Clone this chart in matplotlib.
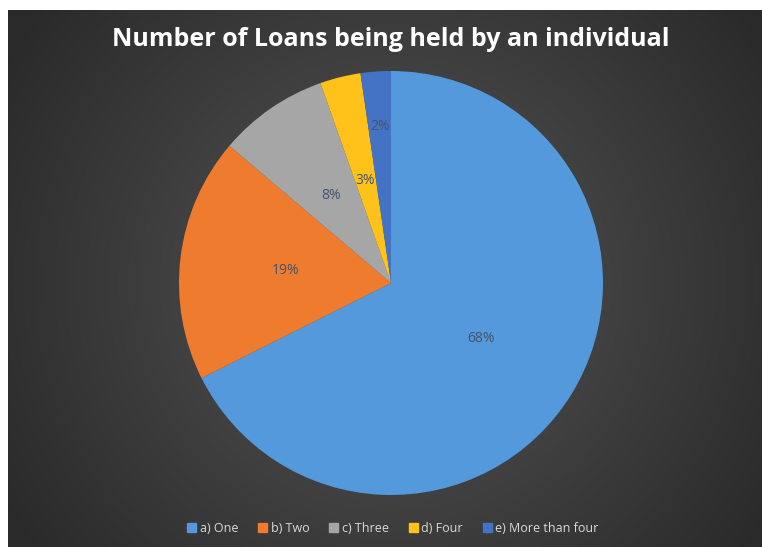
import numpy as np
import matplotlib
matplotlib.use("Agg")
import matplotlib.pyplot as plt

title = "Number of Loans being held by an individual"
categories = ["a) One", "b) Two", "c) Three", "d) Four", "e) More than four"]
values = [67.6, 18.6, 8.4, 3.1, 2.3]
colors = ["#5399DB", "#EF7C2E", "#A6A6A6", "#FFC21A", "#4473C6"]

W, H = 762, 547
fig = plt.figure(figsize=(W / 100, H / 100), dpi=100)
fig.patch.set_facecolor("white")

# background panel with radial gradient
left_px, top_px = 8, 10
bg = fig.add_axes([left_px / W, 0, 1 - left_px / W, 1 - top_px / H])
bg.set_axis_off()
nx, ny = 300, 220
xx, yy = np.meshgrid(np.linspace(0, 1, nx), np.linspace(0, 1, ny))
cx, cy = (391 - left_px) / (W - left_px), (283 - top_px) / (H - top_px)
d = np.sqrt(((xx - cx) * 1.0) ** 2 + ((yy - cy) * 0.72) ** 2)
d = np.clip(d / 0.6, 0, 1)
c_in, c_out = np.array([0x55, 0x55, 0x55]) / 255, np.array([0x2a, 0x2a, 0x2a]) / 255
img = c_in[None, None, :] * (1 - d[..., None]) + c_out[None, None, :] * d[..., None]
bg.imshow(img, aspect="auto", extent=[0, 1, 1, 0], interpolation="bilinear")
bg.set_xlim(0, 1)
bg.set_ylim(1, 0)

# pie
R = 212
pcx, pcy = 391, 283
ax = fig.add_axes([(pcx - R) / W, (H - pcy - R) / H, 2 * R / W, 2 * R / H])
ax.set_axis_off()
wedges, texts, autotexts = ax.pie(
    values, colors=colors, startangle=90, counterclock=False,
    autopct=lambda p: f"{p:.0f}%", pctdistance=0.5,
    textprops=dict(color="#44546A", fontsize=10, family=["Open Sans", "DejaVu Sans"]),
    wedgeprops=dict(linewidth=0),
)
# small last slice label sits further out
theta = np.deg2rad(90 - 360 * (sum(values[:-1]) + values[-1] / 2) / sum(values))
autotexts[-1].set_position((0.74 * np.cos(theta), 0.74 * np.sin(theta)))
ax.set_xlim(-1, 1)
ax.set_ylim(-1, 1)

fig.text(391 / W, 1 - 40 / H, title, ha="center", va="center", color="white",
         fontsize=18, fontweight="bold", family=["Open Sans", "DejaVu Sans"])

# legend
handles = [plt.Rectangle((0, 0), 1, 1, color=c) for c in colors]
leg = fig.legend(handles, categories, loc="center", bbox_to_anchor=(393 / W, 1 - 528 / H),
                 ncol=5, frameon=False, handlelength=0.7, handleheight=0.7,
                 handletextpad=0.3, columnspacing=1.6,
                 prop=dict(family=["Open Sans", "DejaVu Sans"], size=9))
for t in leg.get_texts():
    t.set_color("#D9D9D9")

fig.savefig("out.png", dpi=100, facecolor=fig.get_facecolor())
